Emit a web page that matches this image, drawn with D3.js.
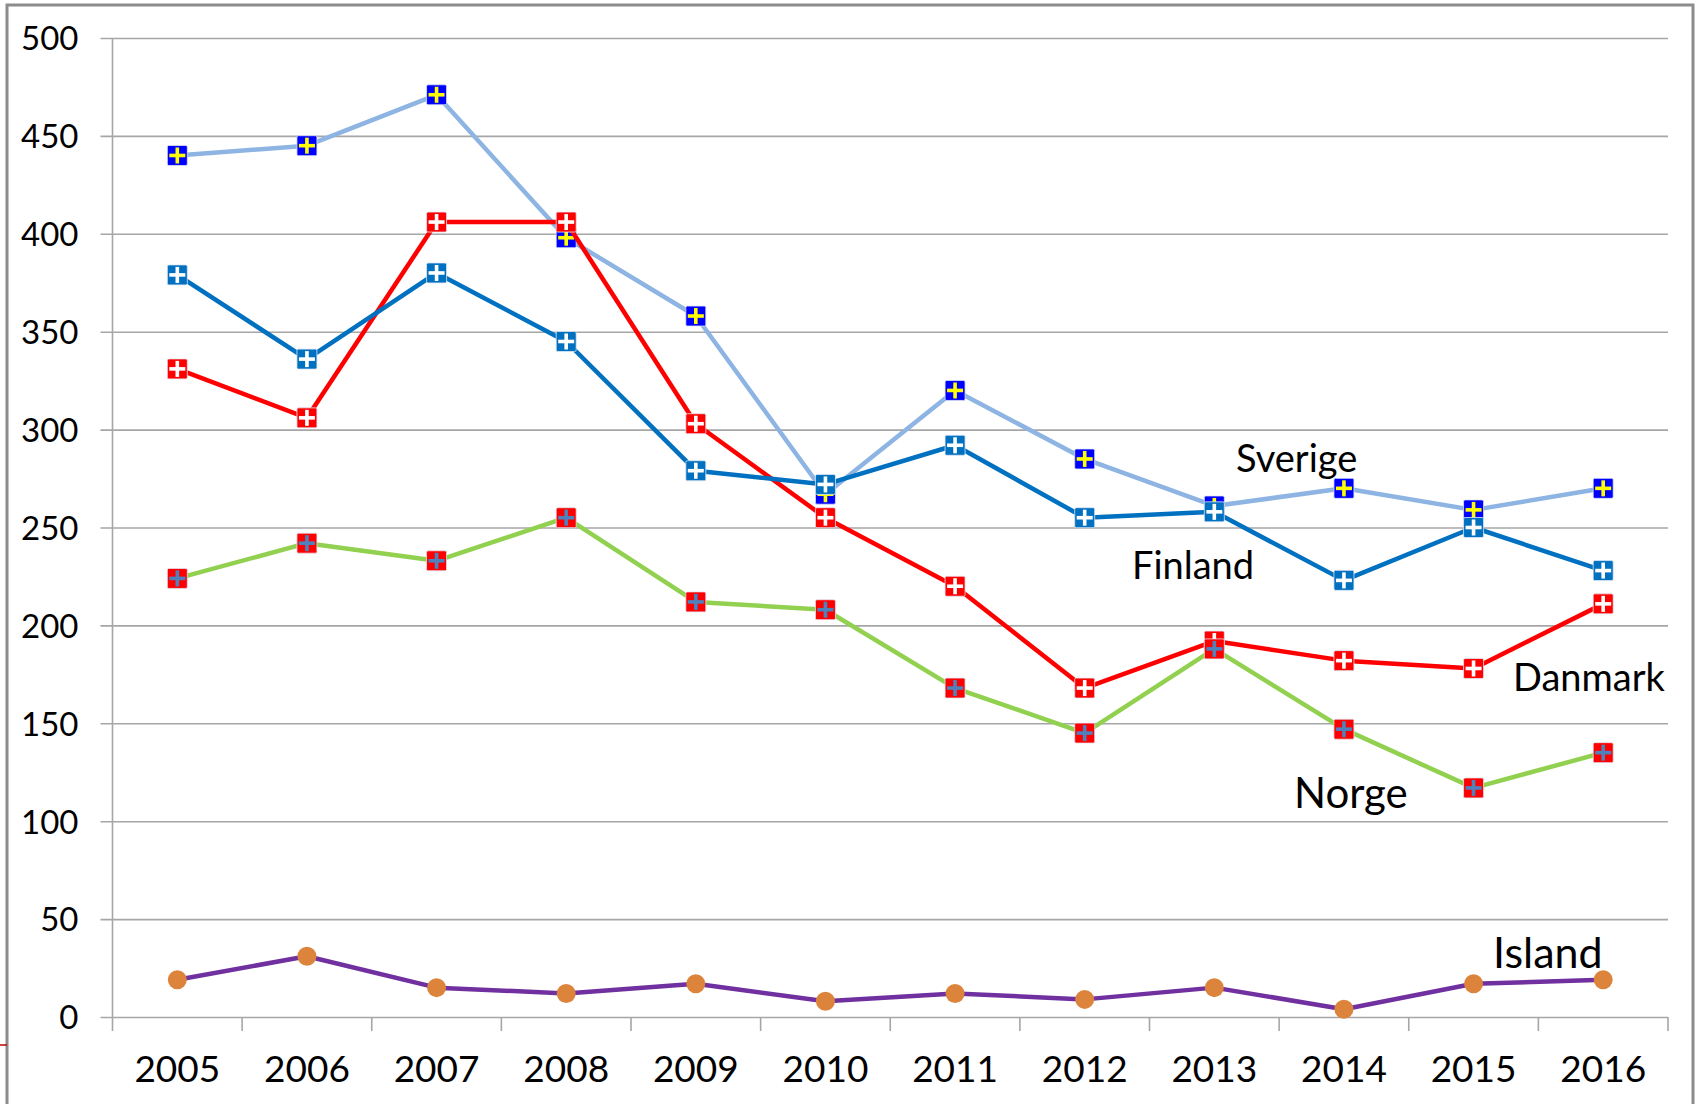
<!DOCTYPE html>
<html><head><meta charset="utf-8">
<script src="https://cdn.jsdelivr.net/npm/d3@7"></script>
<style>html,body{margin:0;padding:0;background:#fff;}svg{display:block;}</style>
</head><body>
<svg id="chart" width="1696" height="1104"></svg>
<script>
const years = ["2005","2006","2007","2008","2009","2010","2011","2012","2013","2014","2015","2016"];
const yTicks = [0,50,100,150,200,250,300,350,400,450,500];
const sverige = [440,445,471,398,358,267,320,285,261,270,259,270];
const finland = [379,336,380,345,279,272,292,255,258,223,250,228];
const danmark = [331,306,406,406,303,255,220,168,192,182,178,211];
const norge   = [224,242,233,255,212,208,168,145,188,147,117,135];
const island  = [19,31,15,12,17,8,12,9,15,4,17,19];
const seriesNames = ["Sverige","Danmark","Norge","Finland","Island"];

(function(){
const FONT = "Lato, 'Open Sans', sans-serif";
const svg = d3.select("#chart");
const pLeft = 112.5, pRight = 1668, pTop = 38, pBottom = 1017;
const x = d3.scaleBand().domain(years).range([pLeft, pRight]).padding(0);
const y = d3.scaleLinear().domain([0, 500]).range([pBottom, pTop]);

// outer border
svg.append("rect").attr("x",7).attr("y",5).attr("width",1686).attr("height",1110)
  .attr("fill","none").attr("stroke","#8c8c8c").attr("stroke-width",3);
svg.append("line").attr("x1",0).attr("x2",7).attr("y1",1045).attr("y2",1045)
  .attr("stroke","#c00000").attr("stroke-width",1.5);

// gridlines + y axis
const yAxis = d3.axisLeft(y).tickValues(yTicks).tickSize(-(pRight - pLeft)).tickPadding(0);
const gy = svg.append("g").attr("transform",`translate(${pLeft},0)`).call(yAxis);
gy.select(".domain").remove();
gy.selectAll(".tick line").attr("stroke","#a6a6a6").attr("stroke-width",1.6).attr("x1",-12);
gy.selectAll(".tick text").attr("x",-34).attr("dy","0.36em")
  .attr("font-family",FONT).attr("font-size",33).attr("fill","#000");
svg.append("line").attr("x1",pLeft).attr("x2",pLeft).attr("y1",pTop).attr("y2",pBottom)
  .attr("stroke","#a6a6a6").attr("stroke-width",1.6);

// x axis
const xAxis = d3.axisBottom(x).tickSize(0).tickPadding(0);
const gx = svg.append("g").attr("transform",`translate(0,${pBottom})`).call(xAxis);
gx.select(".domain").remove();
gx.selectAll(".tick text").attr("y",65).attr("dy",0)
  .attr("font-family",FONT).attr("font-size",37).attr("fill","#000");
const bounds = years.map(d => x(d)).concat([pRight]);
svg.append("g").selectAll("line").data(bounds).join("line")
  .attr("x1",d=>d).attr("x2",d=>d).attr("y1",pBottom).attr("y2",pBottom+14)
  .attr("stroke","#a6a6a6").attr("stroke-width",1.6);

const cx = d => x(d) + x.bandwidth()/2;
const line = d3.line().x((v,i)=>cx(years[i])).y(v=>y(v));

const cfg = {
  Sverige: {data: sverige, line:"#8db4e2", box:"#0000ff", cross:"#ffff00", kind:"sq"},
  Danmark: {data: danmark, line:"#ff0000", box:"#ff0000", cross:"#ffffff", kind:"sq"},
  Norge:   {data: norge,   line:"#92d050", box:"#ff0000", cross:"#4f81bd", kind:"sq"},
  Finland: {data: finland, line:"#0070c0", box:"#0070c0", cross:"#ffffff", kind:"sq"},
  Island:  {data: island,  line:"#7030a0", box:"#dd843c", cross:null, kind:"circle"}
};

seriesNames.forEach(name => {
  const c = cfg[name];
  const g = svg.append("g");
  g.append("path").attr("d", line(c.data)).attr("fill","none")
    .attr("stroke", c.line).attr("stroke-width", 4.5).attr("stroke-linejoin","round");
  const pts = g.selectAll("g.pt").data(c.data).join("g")
    .attr("transform",(v,i)=>`translate(${cx(years[i])},${y(v)})`);
  if (c.kind === "circle") {
    pts.append("circle").attr("r",9.5).attr("fill",c.box);
  } else {
    pts.append("rect").attr("x",-10).attr("y",-10).attr("width",20).attr("height",20)
      .attr("rx",1.5).attr("fill",c.box).attr("stroke","#dfe6f5").attr("stroke-width",0.8);
    pts.append("rect").attr("x",-8).attr("y",-1.8).attr("width",16).attr("height",3.6).attr("fill",c.cross);
    pts.append("rect").attr("x",-1.8).attr("y",-8).attr("width",3.6).attr("height",16).attr("fill",c.cross);
  }
});

// series labels
const labels = [
  {t:"Sverige", x:1236, y:472, s:38},
  {t:"Finland", x:1132, y:579, s:38},
  {t:"Danmark", x:1513, y:691, s:38},
  {t:"Norge", x:1294, y:808, s:42},
  {t:"Island", x:1493, y:968, s:43}
];
svg.append("g").selectAll("text").data(labels).join("text")
  .attr("x",d=>d.x).attr("y",d=>d.y).text(d=>d.t)
  .attr("font-family",FONT).attr("font-size",d=>d.s).attr("fill","#000");
})();
</script>
</body></html>
